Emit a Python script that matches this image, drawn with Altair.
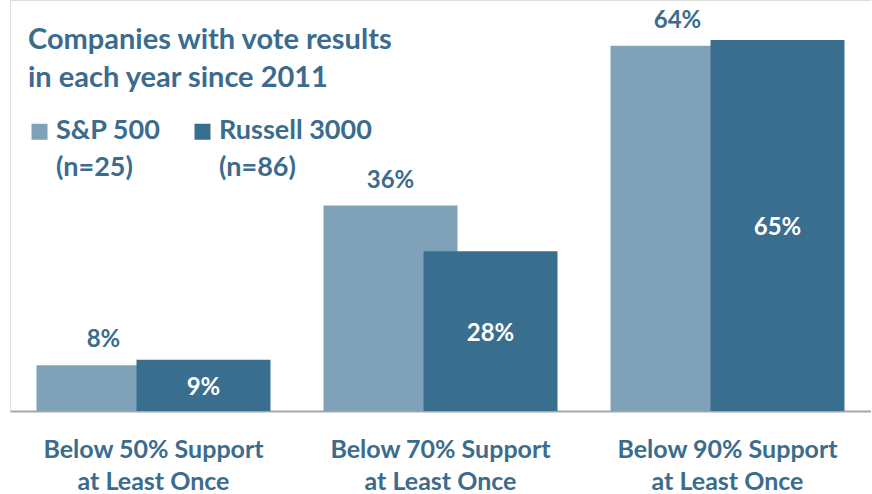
import altair as alt
import pandas as pd

# ---- data ----
categories = [
    "Below 50% Support\nat Least Once",
    "Below 70% Support\nat Least Once",
    "Below 90% Support\nat Least Once",
]
series = ["S&P 500", "Russell 3000"]
series_n = [25, 86]
sp500 = [8, 36, 64]
russell = [9, 28, 65]
title_lines = ["Companies with vote results", "in each year since 2011"]

# ---- style ----
colors = ["#7fa2b8", "#3a6e8e"]
TEXT = "#3b6c8d"
FONT = "Lato"

rows = []
for c, a, b in zip(categories, sp500, russell):
    rows.append({"category": c, "series": series[0], "value": a})
    rows.append({"category": c, "series": series[1], "value": b})
df = pd.DataFrame(rows)

legend_expr = (
    f"datum.label == '{series[0]}' ? ['{series[0]}', '(n={series_n[0]})'] : "
    f"['{series[1]}', '(n={series_n[1]})']"
)

x_enc = alt.X(
    "category:N",
    sort=categories,
    scale=alt.Scale(paddingInner=0, paddingOuter=0),
    axis=alt.Axis(
        title=None,
        labelExpr="split(datum.label, '\\n')",
        labelFont=FONT,
        labelFontSize=25,
        labelFontWeight="bold",
        labelColor=TEXT,
        labelLineHeight=32,
        labelPadding=19,
        labelAngle=0,
        labelLimit=400,
        ticks=False,
        tickSize=0,
        domainColor="#a6a6a6",
        domainWidth=2,
        grid=False,
    ),
)
yscale = alt.Scale(domain=[0, 72], nice=False, zero=True)
y_enc = alt.Y("value:Q", scale=yscale, axis=None)
color_enc = alt.Color(
    "series:N",
    scale=alt.Scale(domain=series, range=colors),
    legend=alt.Legend(
        title=None,
        orient="none",
        legendX=16,
        legendY=118,
        direction="horizontal",
        symbolType="square",
        symbolSize=256,
        symbolStrokeWidth=0,
        symbolOpacity=1,
        labelFont=FONT,
        labelFontSize=27,
        labelFontWeight="bold",
        labelColor=TEXT,
        labelBaseline="alphabetic",
        labelExpr=legend_expr,
        labelOffset=3,
        labelLimit=300,
        columnPadding=28,
        padding=0,
    ),
)

base = alt.Chart(df)

bars_sp = base.transform_filter(alt.datum.series == series[0]).mark_bar(
    width=134, xOffset=-50, opacity=1
).encode(x=x_enc, y=y_enc, color=color_enc)
bars_ru = base.transform_filter(alt.datum.series == series[1]).mark_bar(
    width=134, xOffset=50, opacity=1
).encode(x=x_enc, y=y_enc, color=color_enc)

lab_sp = base.transform_filter(alt.datum.series == series[0]).transform_calculate(
    label="datum.value + '%'"
).mark_text(
    xOffset=-50, dy=-25, baseline="middle", font=FONT, fontSize=24,
    fontWeight="bold", color=TEXT
).encode(x=alt.X("category:N", sort=categories), y=alt.Y("value:Q", scale=yscale), text="label:N")

lab_ru = base.transform_filter(alt.datum.series == series[1]).transform_calculate(
    label="datum.value + '%'", half="datum.value / 2"
).mark_text(
    xOffset=50, dy=3, baseline="middle", font=FONT, fontSize=24,
    fontWeight="bold", color="white"
).encode(x=alt.X("category:N", sort=categories), y=alt.Y("half:Q", scale=yscale), text="label:N")

chart = (
    alt.layer(bars_sp, bars_ru, lab_sp, lab_ru)
    .properties(
        width=861,
        height=411,
        padding={"left": 10, "top": 0, "right": 0, "bottom": 0},
        title=alt.TitleParams(
            text=title_lines,
            anchor="start",
            font=FONT,
            fontSize=29,
            fontWeight="bold",
            color=TEXT,
            lineHeight=38,
            offset=-93,
            dx=18,
        ),
    )
    .configure_view(stroke=None)
    .configure(background="white", style={"guide-label": {"lineHeight": 37, "dy": 7}})
)

chart.save("out.html", embed_options={"renderer": "svg", "actions": False})
